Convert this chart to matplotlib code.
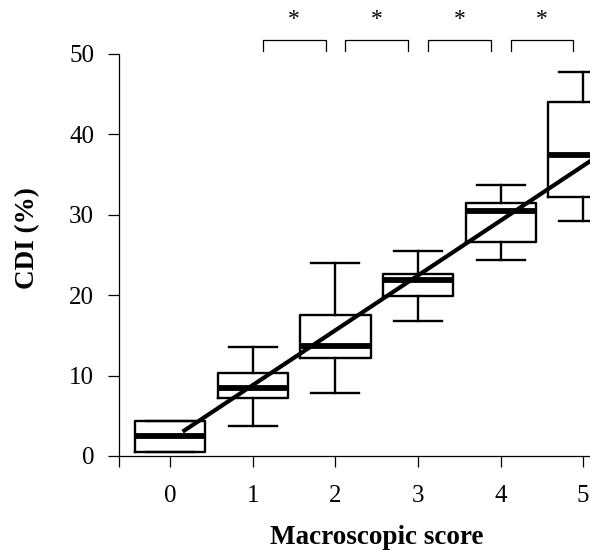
import matplotlib
matplotlib.use("Agg")
import matplotlib.pyplot as plt

# ---- data ----
scores = [0, 1, 2, 3, 4, 5]
q1 = [0.5, 7.2, 12.2, 19.9, 26.6, 32.2]
med = [2.5, 8.5, 13.7, 21.9, 30.5, 37.4]
q3 = [4.35, 10.3, 17.5, 22.6, 31.5, 44.0]
whislo = [0.5, 3.7, 7.8, 16.8, 24.4, 29.2]
whishi = [4.35, 13.6, 24.0, 25.5, 33.7, 47.8]
reg_intercept = 2.0
reg_slope = 6.82
reg_x = [0.15, 5.6]
sig_pairs = [(1, 2), (2, 3), (3, 4), (4, 5)]
sig_labels = ["*", "*", "*", "*"]
yticks = [0, 10, 20, 30, 40, 50]
xlabel = "Macroscopic score"
ylabel = "CDI (%)"

W, H = 590, 550
fig = plt.figure(figsize=(W / 100, H / 100), dpi=100)
xmin, xmax = -0.62, 5.5
pxu = 82.6
ax_left, ax_bottom = 119, H - 456
ax_w = (xmax - xmin) * pxu
ax_h = 456 - 54
ax = fig.add_axes([ax_left / W, ax_bottom / H, ax_w / W, ax_h / H])
ax.set_xlim(xmin, xmax)
ax.set_ylim(0, 50)

serif = ["Liberation Serif", "DejaVu Serif"]

stats = []
for i in range(len(scores)):
    stats.append(dict(med=med[i], q1=q1[i], q3=q3[i], whislo=whislo[i], whishi=whishi[i], fliers=[]))

ax.bxp(stats, positions=scores, widths=0.85, showfliers=False, patch_artist=False,
       boxprops=dict(color="black", linewidth=1.7),
       whiskerprops=dict(color="black", linewidth=1.7),
       capprops=dict(color="black", linewidth=1.7),
       medianprops=dict(color="black", linewidth=4.2),
       capwidths=0.58, manage_ticks=False)

ys = [reg_intercept + reg_slope * x for x in reg_x]
ax.plot(reg_x, ys, color="black", linewidth=3.0, solid_capstyle="butt", zorder=5)

# significance brackets
for (a, b), lab in zip(sig_pairs, sig_labels):
    x0, x1 = a + 0.12, b - 0.12
    ax.plot([x0, x0, x1, x1], [50.4, 51.7, 51.7, 50.4], color="black", linewidth=0.9, clip_on=False)
    ax.text((a + b) / 2, 54.3, lab, ha="center", va="center", fontsize=17,
            family=serif, clip_on=False)

for s in ["top", "right"]:
    ax.spines[s].set_visible(False)
ax.spines["left"].set_bounds(0, 50)
ax.spines["left"].set_linewidth(0.9)
ax.spines["bottom"].set_linewidth(0.9)

ax.set_xticks([xmin] + scores)
ax.set_xticklabels([""] + [str(s) for s in scores])
ax.set_yticks(yticks)
ax.set_yticklabels([str(t) for t in yticks])
ax.tick_params(axis="both", direction="out", length=8, width=0.9, labelsize=18)
ax.tick_params(axis="x", pad=13)
ax.tick_params(axis="y", pad=10)
for lab in ax.get_xticklabels() + ax.get_yticklabels():
    lab.set_family(serif)

fig.text(377 / W, 1 - 538 / H, xlabel, ha="center", va="center", fontsize=19.5,
         fontweight="bold", family=serif)
fig.text(28 / W, 1 - 238 / H, ylabel, ha="center", va="center", fontsize=19.5,
         fontweight="bold", family=serif, rotation=90)

fig.savefig("out.png", dpi=100)
